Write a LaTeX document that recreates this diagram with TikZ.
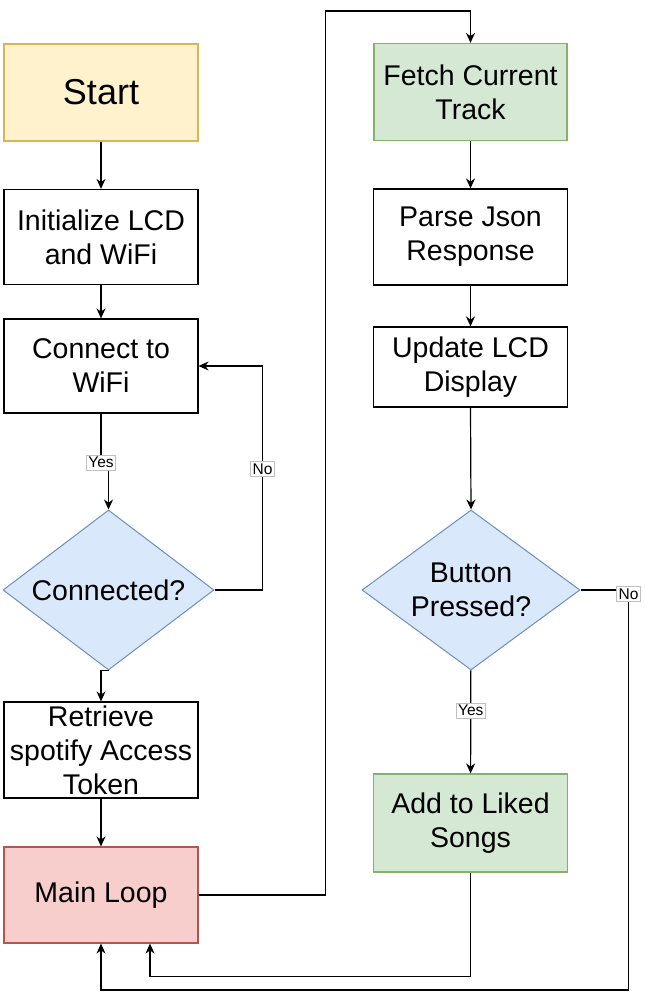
\documentclass[tikz,border=0pt]{standalone}
\usepackage{fontspec}
\setmainfont{Liberation Sans}
\usetikzlibrary{shapes.geometric,arrows.meta}
\definecolor{startfill}{HTML}{FFF2CC}
\definecolor{startline}{HTML}{D6B656}
\definecolor{greenfill}{HTML}{D5E8D4}
\definecolor{greenline}{HTML}{82B366}
\definecolor{bluefill}{HTML}{DAE8FC}
\definecolor{blueline}{HTML}{6C8EBF}
\definecolor{loopfill}{HTML}{F8CECC}
\definecolor{loopline}{HTML}{B85450}
\begin{document}
\begin{tikzpicture}[x=1pt,y=-1pt,>={Stealth[length=10pt,width=9pt]},line width=1.2pt,
  stepbox/.style={draw,rectangle,minimum width=194pt,minimum height=96pt,inner sep=0pt,align=center,font=\fontsize{28.5}{34}\selectfont},
  decision/.style={draw=blueline,fill=bluefill,line width=1pt,diamond,aspect=1.32,minimum width=211pt,minimum height=160pt,inner sep=0pt,align=center,font=\fontsize{28.5}{34}\selectfont},
  lbl/.style={fill=white,draw=black!25,line width=0.6pt,inner sep=2pt,font=\fontsize{15.5}{18}\selectfont}]

\useasboundingbox (0,0) rectangle (645,1005);

\node[stepbox,fill=startfill,draw=startline,font=\fontsize{36}{43}\selectfont,minimum height=97pt] (start) at (101,92.5) {Start};
\node[stepbox,minimum height=95pt] (init) at (101,237) {Initialize LCD\\and WiFi};
\node[stepbox,minimum height=94pt] (conn) at (101,366) {Connect to\\WiFi};
\node[decision] (connq) at (108.5,590) {Connected?};
\node[stepbox] (token) at (101,750) {Retrieve\\spotify Access\\Token};
\node[stepbox,fill=loopfill,draw=loopline] (loop) at (101,895) {Main Loop};

\node[stepbox,fill=greenfill,draw=greenline,minimum width=193pt,minimum height=97pt] (fetch) at (470.5,92) {Fetch Current\\Track};
\node[stepbox] (parse) at (470.5,237) {Parse Json\\Response};
\node[stepbox,minimum height=80pt] (update) at (470.5,367) {Update LCD\\Display};
\node[decision,minimum width=218pt] (btnq) at (471,590) {Button\\Pressed?};
\node[stepbox,fill=greenfill,draw=greenline,minimum height=98pt] (liked) at (470.5,823) {Add to Liked\\Songs};

\draw[->] (start) -- (init);
\draw[->] (init) -- (conn);
\draw[->] (conn.south) -- ++(0,49) node[lbl] {Yes} -| (connq.north);
\draw[->] (connq.east) -- ++(48,0) |- node[lbl,pos=0.27] {No} (conn.east);
\draw[->] (connq.south) -| (token.north);
\draw[->] (token) -- (loop);
\draw[->] (loop.east) -- ++(127,0) |- ([yshift=32pt]fetch.north) -- (fetch.north);

\draw[->] (fetch) -- (parse);
\draw[->] (parse) -- (update);
\draw[->] (update.south) -- (btnq.north);
\draw[->] (btnq) -- node[lbl,pos=0.39] {Yes} (liked);
\draw[->] (btnq.east) -- ++(48,0) node[lbl,yshift=-4pt] {No} -- ++(0,400) -| (loop.south);
\draw[->] (liked.south) -- ++(0,104) -| ([xshift=49pt]loop.south);

\end{tikzpicture}
\end{document}
